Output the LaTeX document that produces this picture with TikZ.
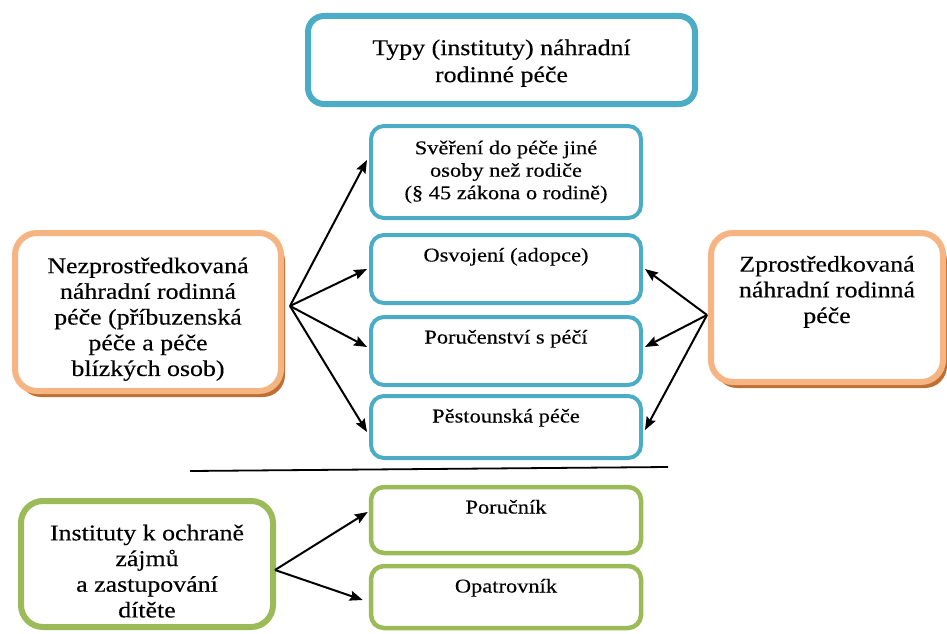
\documentclass[tikz,border=0pt]{standalone}
\usepackage{fontspec}
\setmainfont{Liberation Serif}[FakeStretch=1.15,FakeBold=0.3]
\usetikzlibrary{arrows.meta,shadows}
\definecolor{aqualine}{RGB}{75,172,198}
\definecolor{peachline}{RGB}{246,180,130}
\definecolor{peachshade}{RGB}{190,112,52}
\definecolor{leafline}{RGB}{155,187,89}
\tikzset{
  bigfont/.style={font=\fontsize{22.5}{25.7}\selectfont},
  smallfont/.style={font=\fontsize{19.5}{22.5}\selectfont},
  topbox/.style={draw=aqualine, line width=6pt, rounded corners=16pt, fill=white,
    minimum width=387pt, minimum height=88pt, align=center,
    font=\fontsize{22.5}{27}\selectfont},
  bluebox/.style={draw=aqualine, line width=4pt, rounded corners=13pt, fill=white,
    minimum width=270pt, align=center, smallfont},
  oneline/.style={text height=26.5pt, inner ysep=0pt},
  peachbox/.style={draw=peachline, line width=6pt, rounded corners=22pt, fill=white,
    align=center, bigfont,
    drop shadow={shadow xshift=4pt, shadow yshift=-6pt, fill=peachshade, opacity=1}},
  greenbig/.style={draw=leafline, line width=6pt, rounded corners=22pt, fill=white,
    align=center, bigfont},
  greenbox/.style={draw=leafline, line width=4.5pt, rounded corners=13pt, fill=white,
    minimum width=270pt, smallfont, oneline},
  arr/.style={-{Stealth[length=13pt,width=10pt,inset=2pt]}, line width=2pt, black},
  rule/.style={line width=1.8pt, black},
}
\begin{document}
\begin{tikzpicture}[x=1pt,y=-1pt]
\useasboundingbox (0,0) rectangle (947,634);

\node[topbox] (top) at (501.5,60) {\rule{0pt}{22pt}Typy (instituty) náhradní\\rodinné péče};

\node[bluebox, minimum height=92pt] (b1) at (506,172)
  {Svěření do péče jiné\\osoby než rodiče\\(§ 45 zákona o rodině)};
\node[bluebox, oneline, text depth=41.5pt] (b2) at (506,269) {Osvojení (adopce)};
\node[bluebox, oneline, text depth=41.5pt] (b3) at (506,351) {Poručenství s péčí};
\node[bluebox, oneline, text depth=35.5pt] (b4) at (506,427) {Pěstounská péče};

\node[peachbox, minimum width=266pt, minimum height=158pt] (lb) at (148,312)
  {\rule{0pt}{30pt}Nezprostředkovaná\\náhradní rodinná\\péče (příbuzenská\\péče a péče\\blízkých osob)};
\node[peachbox, minimum width=232pt, minimum height=149pt] (rb) at (827,307.5)
  {Zprostředkovaná\\náhradní rodinná\\péče\rule[-36pt]{0pt}{0pt}};

\node[greenbig, minimum width=252pt, minimum height=126pt] (gb) at (147,564)
  {\rule{0pt}{30pt}Instituty k ochraně\\zájmů\\a zastupování\\dítěte};
\node[greenbox, text depth=39.5pt] (p) at (506,520) {Poručník};
\node[greenbox, text depth=35.5pt] (o) at (506,597) {Opatrovník};

% separator line
\coordinate (sepA) at (190,471);
\coordinate (sepB) at (668,467);
\draw[rule] (sepA) -- (sepB);

% arrows from the left box
\coordinate (lsrc) at ([xshift=6pt,yshift=6pt]lb.east);
\draw[arr] (lsrc) -- ([xshift=-2pt,yshift=12pt]b1.west);
\draw[arr] (lsrc) -- ([xshift=-2pt]b2.west);
\draw[arr] (lsrc) -- ([xshift=-2pt,yshift=4pt]b3.west);
\draw[arr] (lsrc) -- ([xshift=-2pt,yshift=-5pt]b4.west);

% arrows from the right box
\coordinate (rsrc) at ([xshift=-1pt,yshift=-7.5pt]rb.west);
\draw[arr] (rsrc) -- ([xshift=2pt]b2.east);
\draw[arr] (rsrc) -- ([xshift=2pt,yshift=4pt]b3.east);
\draw[arr] (rsrc) -- ([xshift=2pt,yshift=-3pt]b4.east);

% arrows from the green box
\coordinate (gsrc) at ([xshift=-1pt,yshift=-6pt]gb.east);
\draw[arr] (gsrc) -- ([xshift=-1pt,yshift=8pt]p.west);
\draw[arr] (gsrc) -- ([xshift=-6pt,yshift=-3pt]o.west);
\end{tikzpicture}
\end{document}
